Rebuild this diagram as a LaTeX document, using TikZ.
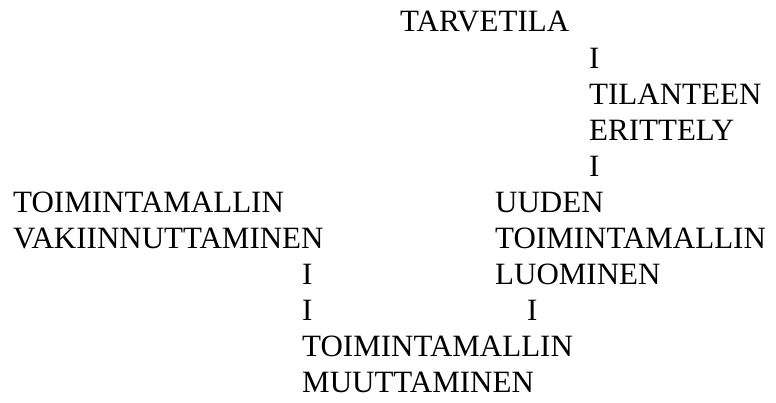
\documentclass[tikz,border=0pt]{standalone}
\usepackage{fontspec}
\setmainfont{Liberation Serif}
\begin{document}
\begin{tikzpicture}[x=1pt,y=1pt,
  txt/.style={anchor=base west,inner sep=0pt,font=\fontsize{31}{36}\selectfont}]
\useasboundingbox (0,0) rectangle (776,403);
\def\bl#1{403-32-36.1*(#1-1)}
\node[txt] (tarve) at (400,{\bl{1}}) {TARVETILA};
\node[txt] (i1) at (589,{\bl{2}}) {I};
\node[txt] (til1) at (589,{\bl{3}}) {TILANTEEN};
\node[txt] (til2) at (589,{\bl{4}}) {ERITTELY};
\node[txt] (i2) at (589,{\bl{5}}) {I};
\node[txt] (vak1) at (13,{\bl{6}}) {TOIMINTAMALLIN};
\node[txt] (vak2) at (13,{\bl{7}}) {VAKIINNUTTAMINEN};
\node[txt] (uud1) at (495,{\bl{6}}) {UUDEN};
\node[txt] (uud2) at (495,{\bl{7}}) {TOIMINTAMALLIN};
\node[txt] (uud3) at (495,{\bl{8}}) {LUOMINEN};
\node[txt] (i3) at (302,{\bl{8}}) {I};
\node[txt] (i4) at (302,{\bl{9}}) {I};
\node[txt] (i5) at (527,{\bl{9}}) {I};
\node[txt] (muu1) at (302,{\bl{10}}) {TOIMINTAMALLIN};
\node[txt] (muu2) at (302,{\bl{11}}) {MUUTTAMINEN};
\end{tikzpicture}
\end{document}
